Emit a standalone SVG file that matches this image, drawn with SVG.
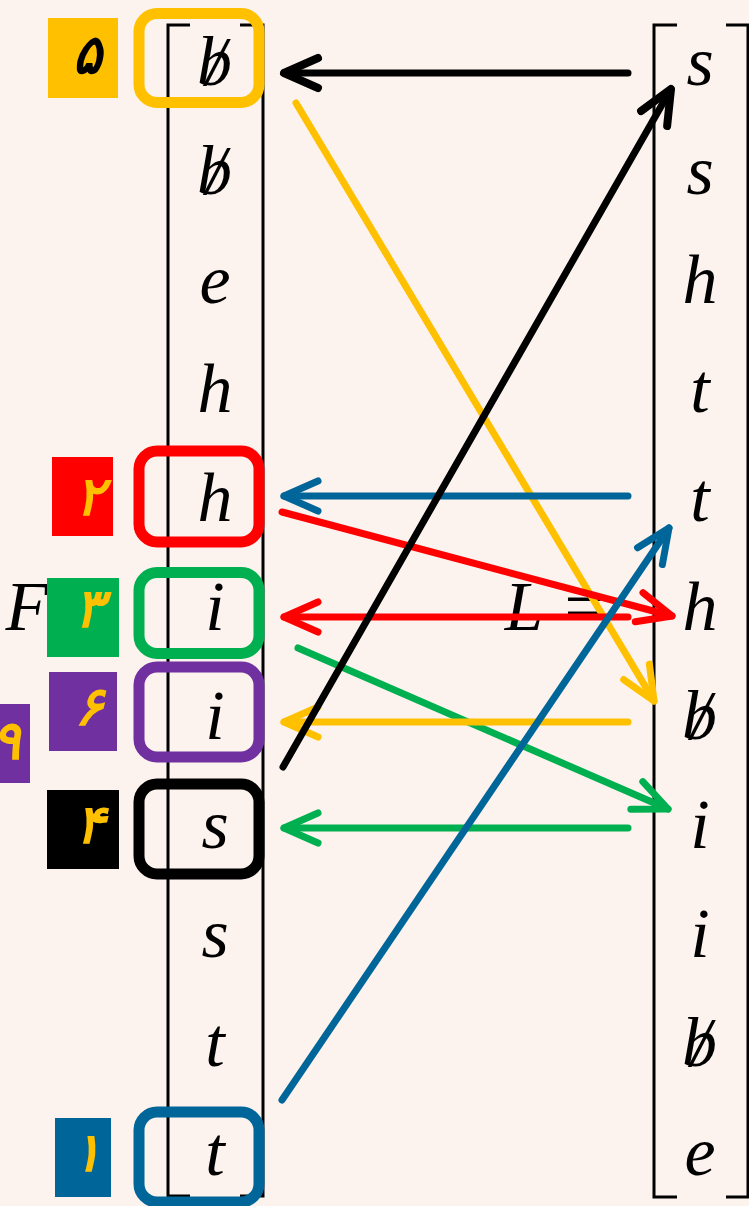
<svg xmlns="http://www.w3.org/2000/svg" width="749" height="1206" viewBox="0 0 749 1206">
<style>
.bg{fill:#FCF3EE}
.br{stroke:#000;stroke-width:3;fill:none}
.m{font-family:"Liberation Serif","Times New Roman",serif;font-style:italic;font-size:70px;fill:#000;text-anchor:middle}
.bs{text-anchor:start}
.lbl{font-family:"DejaVu Sans","Noto Sans",sans-serif;font-weight:bold;font-style:italic;font-size:54px;text-anchor:middle;dominant-baseline:central}
.box{fill:none;stroke-width:11}
.ar{fill:none;stroke-width:7;stroke-linecap:round;stroke-linejoin:round}
</style>
<defs>
<marker id="mk" markerUnits="userSpaceOnUse" orient="auto" refX="0" refY="0" markerWidth="10" markerHeight="10" overflow="visible"><path d="M-34,-15 L0,0 L-34,15" fill="none" stroke="#000" stroke-width="8" stroke-linecap="round" stroke-linejoin="round"/></marker>
<marker id="my" markerUnits="userSpaceOnUse" orient="auto" refX="0" refY="0" markerWidth="10" markerHeight="10" overflow="visible"><path d="M-34,-15 L0,0 L-34,15" fill="none" stroke="#FFC000" stroke-width="7" stroke-linecap="round" stroke-linejoin="round"/></marker>
<marker id="mr" markerUnits="userSpaceOnUse" orient="auto" refX="0" refY="0" markerWidth="10" markerHeight="10" overflow="visible"><path d="M-34,-15 L0,0 L-34,15" fill="none" stroke="#FF0000" stroke-width="7" stroke-linecap="round" stroke-linejoin="round"/></marker>
<marker id="mg" markerUnits="userSpaceOnUse" orient="auto" refX="0" refY="0" markerWidth="10" markerHeight="10" overflow="visible"><path d="M-34,-15 L0,0 L-34,15" fill="none" stroke="#00B050" stroke-width="7" stroke-linecap="round" stroke-linejoin="round"/></marker>
<marker id="mb" markerUnits="userSpaceOnUse" orient="auto" refX="0" refY="0" markerWidth="10" markerHeight="10" overflow="visible"><path d="M-34,-15 L0,0 L-34,15" fill="none" stroke="#006699" stroke-width="7" stroke-linecap="round" stroke-linejoin="round"/></marker>
</defs>
<rect class="bg" x="0" y="0" width="749" height="1206"/>

<g id="matrix-F">
<path class="br" d="M190,25 H168 V1196 H190"/>
<path class="br" d="M240,25 H263 V1196 H240"/>
<text class="m bs" x="197" y="85">b<tspan dx="-26">/</tspan></text>
<text class="m bs" x="197" y="194">b<tspan dx="-26">/</tspan></text>
<text class="m" x="215" y="303">e</text>
<text class="m" x="215" y="412">h</text>
<text class="m" x="215" y="521">h</text>
<text class="m" x="215" y="630">i</text>
<text class="m" x="215" y="739">i</text>
<text class="m" x="215" y="848">s</text>
<text class="m" x="215" y="957">s</text>
<text class="m" x="215" y="1066">t</text>
<text class="m" x="215" y="1175">t</text>
</g>

<g id="matrix-L">
<path class="br" d="M677,25 H654 V1197 H677"/>
<path class="br" d="M726,25 H748 V1197 H726"/>
<text class="m" x="700" y="85">s</text>
<text class="m" x="700" y="194">s</text>
<text class="m" x="700" y="303">h</text>
<text class="m" x="700" y="412">t</text>
<text class="m" x="700" y="521">t</text>
<text class="m" x="700" y="630">h</text>
<text class="m bs" x="682" y="739">b<tspan dx="-26">/</tspan></text>
<text class="m" x="700" y="848">i</text>
<text class="m" x="700" y="957">i</text>
<text class="m bs" x="682" y="1066">b<tspan dx="-26">/</tspan></text>
<text class="m" x="700" y="1175">e</text>
</g>

<g id="eq-labels">
<text class="m" x="27" y="630">F</text>
<text class="m" x="556" y="630">L =</text>
</g>

<g id="highlights">
<rect class="box" x="139" y="13.5" width="120" height="89" rx="18" stroke="#FFC000"/>
<rect class="box" x="139" y="451" width="120" height="91" rx="18" stroke="#FF0000"/>
<rect class="box" x="139" y="572.5" width="120" height="81" rx="18" stroke="#00B050"/>
<rect class="box" x="139" y="667" width="120" height="90" rx="18" stroke="#7030A0"/>
<rect class="box" x="139" y="784" width="120" height="90" rx="18" stroke="#000000"/>
<rect class="box" x="139" y="1112" width="120" height="90" rx="18" stroke="#006699"/>
</g>

<g id="tags">
<g id="tag5"><rect x="48" y="18" width="70" height="80" fill="#FFC000"/><text class="lbl" x="87" y="54" fill="#000">&#x6F5;</text></g>
<g id="tag2"><rect x="52" y="457" width="61" height="79" fill="#FF0000"/><text class="lbl" x="90" y="496" fill="#FFC000">&#x6F2;</text></g>
<g id="tag3"><rect x="47" y="578" width="72" height="79" fill="#00B050"/><text class="lbl" x="89" y="608" fill="#FFC000">&#x6F3;</text></g>
<g id="tag6"><rect x="49" y="672" width="68" height="79" fill="#7030A0"/><text class="lbl" x="89" y="706" fill="#FFC000">&#x6F6;</text></g>
<g id="tag9"><rect x="-10" y="704" width="40" height="79" fill="#7030A0"/><text class="lbl" x="6" y="740" fill="#FFC000">&#x6F9;</text></g>
<g id="tag4"><rect x="47" y="790" width="72" height="79" fill="#000000"/><text class="lbl" x="90" y="824" fill="#FFC000">&#x6F4;</text></g>
<g id="tag1"><rect x="55" y="1118" width="56" height="79" fill="#006699"/><text class="lbl" x="87" y="1152" fill="#FFC000">&#x6F1;</text></g>
</g>

<g id="connectors">
<line class="ar" x1="628" y1="73" x2="284" y2="73" stroke="#000" stroke-width="8" marker-end="url(#mk)"/>
<line class="ar" x1="296" y1="103" x2="654" y2="701" stroke="#FFC000" marker-end="url(#my)"/>
<line class="ar" x1="628" y1="496" x2="284" y2="496" stroke="#006699" marker-end="url(#mb)"/>
<line class="ar" x1="282" y1="512" x2="672" y2="616" stroke="#FF0000" marker-end="url(#mr)"/>
<line class="ar" x1="628" y1="617" x2="284" y2="617" stroke="#FF0000" marker-end="url(#mr)"/>
<line class="ar" x1="298" y1="648" x2="668" y2="809" stroke="#00B050" marker-end="url(#mg)"/>
<line class="ar" x1="628" y1="722" x2="284" y2="722" stroke="#FFC000" marker-end="url(#my)"/>
<line class="ar" x1="628" y1="828" x2="284" y2="828" stroke="#00B050" marker-end="url(#mg)"/>
<line class="ar" x1="283" y1="767" x2="671" y2="89" stroke="#000" stroke-width="8" marker-end="url(#mk)"/>
<line class="ar" x1="282" y1="1100" x2="669" y2="528" stroke="#006699" marker-end="url(#mb)"/>
</g>
</svg>
